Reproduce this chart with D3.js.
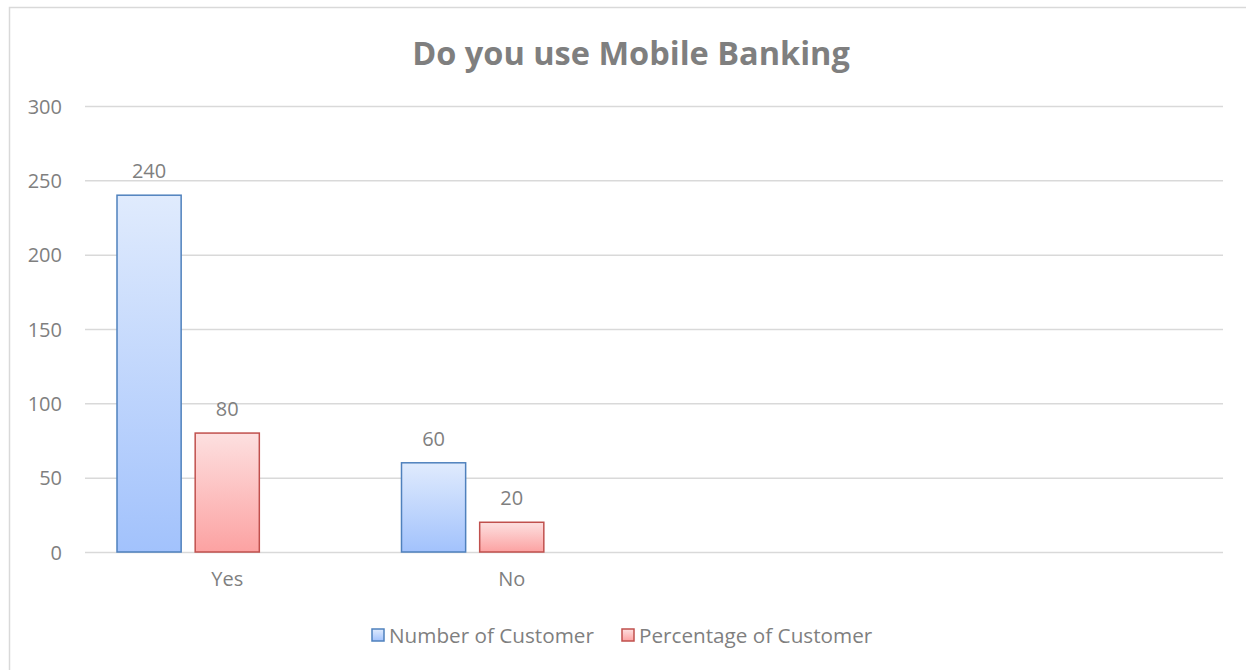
<!DOCTYPE html>
<html lang="en">
<head>
    <meta charset="UTF-8">
    <title>Do you use Mobile Banking</title>
    <script src="https://d3js.org/d3.v7.min.js"></script>
    <style>
        body { margin: 0; background: #fff; font-family: "Open Sans", sans-serif; }
        .tick text { fill: #7f7f7f; font-size: 20px; font-family: "Open Sans", sans-serif; }
        .grid line { stroke: #d9d9d9; stroke-width: 1.5; }
    </style>
</head>
<body>
<svg width="1246" height="670"></svg>
<script>
    const categories = ["Yes", "No", "c3", "c4"];
    const tickLabels = ["Yes", "No", "", ""];
    const seriesNames = ["Number of Customer", "Percentage of Customer"];
    const numberOfCustomer = [240, 60, null, null];
    const percentageOfCustomer = [80, 20, null, null];
    const yTicks = [0, 50, 100, 150, 200, 250, 300];

    const svg = d3.select("svg");
    const margin = { top: 106, right: 23, bottom: 118, left: 85 };
    const W = 1246, H = 670;

    // chart frame
    svg.append("rect").attr("x", 9.5).attr("y", 7.5).attr("width", 1250).attr("height", 680)
       .attr("fill", "#fff").attr("stroke", "#d9d9d9").attr("stroke-width", 1.5);

    const defs = svg.append("defs");
    const grads = [
        { id: "gBlue", top: "#e0ebfd", bottom: "#a2c2fc", stroke: "#4f81bd" },
        { id: "gRed", top: "#fde0e0", bottom: "#fca2a2", stroke: "#c0504d" }
    ];
    grads.forEach(g => {
        const lg = defs.append("linearGradient").attr("id", g.id)
            .attr("x1", 0).attr("y1", 0).attr("x2", 0).attr("y2", 1);
        lg.append("stop").attr("offset", "0%").attr("stop-color", g.top);
        lg.append("stop").attr("offset", "100%").attr("stop-color", g.bottom);
    });

    const x0 = d3.scaleBand().domain(categories).range([margin.left, W - margin.right]);
    // three slots per category (third one is empty in the source chart)
    const x1 = d3.scaleBand().domain([0, 1, 2])
        .range([32, x0.bandwidth() - 32]).paddingInner(0.1795);
    const y = d3.scaleLinear().domain([0, 300]).range([H - margin.bottom, margin.top]);

    svg.append("g").attr("class", "grid")
       .call(d3.axisLeft(y).tickValues(yTicks).tickSize(-(W - margin.left - margin.right)).tickFormat(""))
       .attr("transform", `translate(${margin.left},0)`)
       .select(".domain").remove();

    const yAxis = svg.append("g").attr("transform", `translate(${margin.left},0)`)
       .call(d3.axisLeft(y).tickValues(yTicks).tickSize(0).tickPadding(23));
    yAxis.select(".domain").remove();
    yAxis.selectAll(".tick text").attr("dy", "0.35em");

    const xAxis = svg.append("g").attr("transform", `translate(0,${H - margin.bottom})`)
       .call(d3.axisBottom(x0).tickSize(0).tickPadding(20).tickFormat((d, i) => tickLabels[i]));
    xAxis.select(".domain").remove();

    const series = [numberOfCustomer, percentageOfCustomer];
    series.forEach((vals, si) => {
        const g = grads[si];
        const data = categories.map((c, i) => ({ c, v: vals[i] })).filter(d => d.v != null);
        svg.append("g").selectAll("rect").data(data).join("rect")
            .attr("x", d => x0(d.c) + x1(si))
            .attr("y", d => y(d.v))
            .attr("width", x1.bandwidth())
            .attr("height", d => y(0) - y(d.v))
            .attr("fill", `url(#${g.id})`)
            .attr("stroke", g.stroke).attr("stroke-width", 1.5);
        svg.append("g").selectAll("text").data(data).join("text")
            .attr("x", d => x0(d.c) + x1(si) + x1.bandwidth() / 2)
            .attr("y", d => y(d.v) - 17)
            .attr("text-anchor", "middle")
            .attr("fill", "#7f7f7f").attr("font-size", 20)
            .text(d => d.v);
    });

    svg.append("text").attr("x", 631).attr("y", 65).attr("text-anchor", "middle")
       .attr("fill", "#7f7f7f").attr("font-size", 32.5).attr("font-weight", "bold")
       .text("Do you use Mobile Banking");

    // legend
    const legendX = [372, 622];
    seriesNames.forEach((name, i) => {
        const g = grads[i];
        svg.append("rect").attr("x", legendX[i]).attr("y", 629).attr("width", 12).attr("height", 12)
           .attr("fill", `url(#${g.id})`).attr("stroke", g.stroke).attr("stroke-width", 1.5);
        svg.append("text").attr("x", legendX[i] + 17).attr("y", 643)
           .attr("fill", "#7f7f7f").attr("font-size", 20.7).text(name);
    });
</script>
</body>
</html>
